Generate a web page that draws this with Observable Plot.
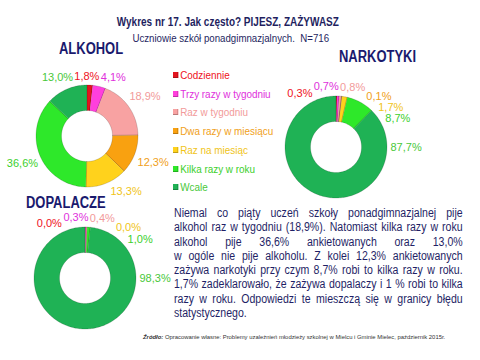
<!DOCTYPE html>
<html><head><meta charset="utf-8">
<script src="https://cdn.jsdelivr.net/npm/d3@7"></script>
<script src="https://cdn.jsdelivr.net/npm/@observablehq/plot@0.6"></script>
<style>
body{margin:0;background:#fff;}
#root{position:relative;width:480px;height:360px;overflow:hidden;background:#fff;font-family:"Liberation Sans",Arial,sans-serif;color:#1f1f66;}
.abs{position:absolute;white-space:nowrap;}
.sx{display:inline-block;transform-origin:left center;}
.ttl{font-weight:bold;font-size:16px;line-height:16px;color:#1a1a6e;}
.ttl .sx{transform:scaleX(0.81);}
#legend .it{position:absolute;left:173px;font-size:11px;white-space:nowrap;transform:scaleX(0.9);transform-origin:left center;}
#legend .sq{display:inline-block;width:6px;height:6px;margin-right:2px;vertical-align:1px;box-shadow:inset -1px -1px 0 rgba(0,0,0,0.25);}
#para{position:absolute;left:174px;top:206px;width:328px;font-size:12px;line-height:14.3px;color:#1f1f66;transform:scaleX(0.88);transform-origin:left top;}
#para div{text-align:justify;text-align-last:justify;white-space:nowrap;}
#para div.last{text-align-last:left;}
svg{pointer-events:none;}
</style></head>
<body><div id="root">
<div class="abs" style="left:0;width:456px;top:15px;text-align:center;font-weight:bold;font-size:12.5px;color:#1f1f5f;"><span class="sx" style="transform:scaleX(0.8);transform-origin:center;">Wykres nr 17. Jak często? PIJESZ, ZAŻYWASZ</span></div>
<div class="abs" style="left:0;width:461px;top:32px;text-align:center;font-size:11px;color:#1f1f5f;"><span class="sx" style="transform:scaleX(0.88);transform-origin:center;">Uczniowie szkół ponadgimnazjalnych.&nbsp;&nbsp;N=716</span></div>
<div class="abs ttl" style="left:59px;top:41px;"><span class="sx">ALKOHOL</span></div>
<div class="abs ttl" style="left:339px;top:49px;"><span class="sx">NARKOTYKI</span></div>
<div class="abs ttl" id="dopTitle" style="left:26px;top:195px;"><span class="sx">DOPALACZE</span></div>
<div id="legend"></div>
<div id="para"></div>
<div class="abs" style="left:143px;top:333px;font-size:6.2px;color:#333;"><span class="sx" style="transform:scaleX(0.95);"><i><b>Źródło:</b></i> Opracowanie własne: Problemy uzależnień młodzieży szkolnej w Mielcu i Gminie Mielec, październik 2015r.</span></div>
</div>
<script>
// ---- data ----
const categories = ["Codziennie","Trzy razy w tygodniu","Raz w tygodniu","Dwa razy w miesiącu","Raz na miesiąc","Kilka razy w roku","Wcale"];
const alkohol   = [1.8, 4.1, 18.9, 12.3, 13.3, 36.6, 13.0];
const narkotyki = [0.3, 0.7, 0.8, 0.1, 1.7, 8.7, 87.7];
const dopalacze = [0.0, 0.3, 0.4, null, 0.0, 1.0, 98.3];
const paragraphLines = [
 "Niemal co piąty uczeń szkoły ponadgimnazjalnej pije",
 "alkohol raz w tygodniu (18,9%). Natomiast kilka razy w roku",
 "alkohol pije 36,6% ankietowanych oraz 13,0%",
 "w ogóle nie pije alkoholu. Z kolei 12,3% ankietowanych",
 "zażywa narkotyki przy czym 8,7% robi to kilka razy w roku.",
 "1,7% zadeklarowało, że zażywa dopalaczy i 1 % robi to kilka",
 "razy w roku. Odpowiedzi te mieszczą się w granicy błędu",
 "statystycznego."
];
// ---- styles ----
const sliceColors = ["#e3141e","#ff3fdc","#f8a2a2","#f9a110","#ffd21c","#2ee82a","#1fb255"];
const textColors  = ["#ee1122","#e030dc","#f29a9a","#f0a020","#f0c418","#3ccf2c","#49c83a"];
const FONT = '"Liberation Sans",Arial,sans-serif';
const LABEL_SIZE = 11;

// legend
const lg = document.getElementById("legend");
categories.forEach((c,i)=>{
  const d = document.createElement("div");
  d.className="it";
  d.style.top = (69 + i*18.7) + "px";
  d.style.color = textColors[i];
  d.innerHTML = `<span class="sq" style="background:${sliceColors[i]}"></span>${c}`;
  lg.appendChild(d);
});
// paragraph
const pr = document.getElementById("para");
paragraphLines.forEach((t,i)=>{
  const d=document.createElement("div");
  d.textContent=t;
  if(i===paragraphLines.length-1) d.className="last";
  pr.appendChild(d);
});

const fmt = v => v.toFixed(1).replace(".",",") + "%";
const ctx = document.createElement("canvas").getContext("2d");
ctx.font = `${LABEL_SIZE}px ${FONT}`;
const rootEl = document.getElementById("root");
function boxOf(el){ const r=el.getBoundingClientRect(), o=rootEl.getBoundingClientRect();
  return {x0:r.left-o.left, x1:r.right-o.left, y0:r.top-o.top+2, y1:r.bottom-o.top-2}; }

function donut(values, cx, cy, obstacles=[]) {
  const R = 51, INNER = 0.5, W = 240, H = 190;
  const total = d3.sum(values, v => v ?? 0);
  let acc = 0;
  const slices = values.map((v,i)=>{
    const s = acc/total*360; acc += (v ?? 0); const e = acc/total*360;
    return {i, v, s, e, mid:(s+e)/2};
  });
  // arc points
  const pts = [];
  slices.forEach(sl=>{
    if (!(sl.v > 0)) return;
    const n = Math.max(2, Math.ceil((sl.e-sl.s)/1.5));
    for (let k=0;k<=n;k++){
      const t = (sl.s + (sl.e-sl.s)*k/n) * Math.PI/180;
      pts.push({cat:categories[sl.i], col:sliceColors[sl.i],
        x1:Math.sin(t), y1:Math.cos(t), x2:INNER*Math.sin(t), y2:INNER*Math.cos(t)});
    }
  });
  // label layout (best-fit style, computed from slice angles)
  const labs = slices.filter(d=>d.v!=null).map(d=>{
    const txt = fmt(d.v);
    const span = d.e-d.s;
    const ang = (span>180 && d.s<90 && d.e>90) ? 90 : d.mid;
    return {i:d.i, txt, ang, w: ctx.measureText(txt).width, h: 11, col:textColors[d.i]};
  });
  const pos = d => { const t=d.ang*Math.PI/180, s=Math.sin(t), c=Math.cos(t);
    const r = R + 3 + Math.abs(s)*d.w/2 + Math.abs(c)*d.h/2; return [s*r, -c*r]; };
  const overlap = (a,b) => { const [ax,ay]=pos(a), [bx,by]=pos(b);
    return ((a.w+b.w)/2+1-Math.abs(ax-bx) > 0) && ((a.h+b.h)/2-Math.abs(ay-by) > 0); };
  const obs = obstacles.map(b=>{ const ox=(b.x0+b.x1)/2-cx, oy=(b.y0+b.y1)/2-cy;
    let a=Math.atan2(ox,-oy)*180/Math.PI; if(a<0)a+=360; return {...b, ang:a}; });
  const hitObs = (d,b) => { const [px,py]=pos(d); const x=px+cx, y=py+cy;
    return x+d.w/2>b.x0 && x-d.w/2<b.x1 && y+d.h/2>b.y0 && y-d.h/2<b.y1; };
  labs.sort((a,b)=>a.ang-b.ang);
  for (let it=0; it<800; it++){
    let moved=false;
    for (let k=0;k<labs.length-1;k++){
      const a=labs[k], b=labs[k+1];
      if (overlap(a,b)){ a.ang-=0.25; b.ang+=0.33; moved=true; }
    }
    const L=labs[labs.length-1], F=labs[0];
    if (labs.length>2 && overlap(L,F)){ L.ang-=0.3; F.ang+=0.3; moved=true; }
    labs.forEach(d=>obs.forEach(b=>{ if(hitObs(d,b)){ d.ang += (d.ang<b.ang?-0.4:0.4); moved=true; } }));
    if(!moved) break;
  }
  labs.forEach(d=>{ const [px,py]=pos(d); d.x=px/R; d.y=-py/R; });

  const svg = Plot.plot({
    width: W, height: H, margin: 0,
    x: {domain:[-W/2/R, W/2/R], axis:null},
    y: {domain:[-H/2/R, H/2/R], axis:null},
    color: {type:"identity"},
    style: {background:"transparent", maxWidth:"none", overflow:"visible"},
    marks: [
      Plot.area(pts, {x1:"x1", y1:"y1", x2:"x2", y2:"y2", z:"cat", fill:"col",
        stroke:"#000", strokeOpacity:0.22, strokeWidth:0.7}),
      Plot.text(labs, {x:"x", y:"y", text:"txt", fill:"col", fontSize:LABEL_SIZE,
        fontFamily: FONT, textAnchor:"middle", lineAnchor:"middle"})
    ]
  });
  svg.style.position="absolute";
  svg.style.left=(cx-W/2)+"px";
  svg.style.top=(cy-H/2)+"px";
  rootEl.appendChild(svg);
}
const dopBox = boxOf(document.getElementById("dopTitle"));
donut(alkohol, 87, 136, [dopBox]);
donut(narkotyki, 336, 147);
donut(dopalacze, 85, 278);
</script>
</body></html>
